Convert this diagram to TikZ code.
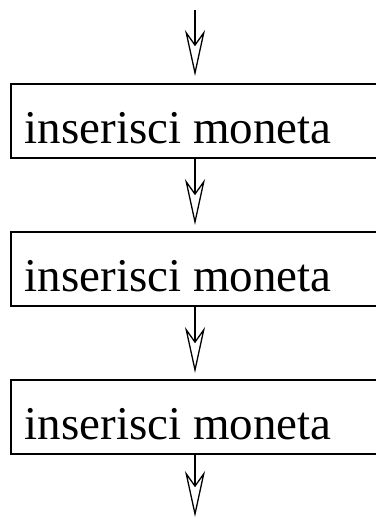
\documentclass[tikz,border=0pt]{standalone}
\usepackage{fontspec}
\setmainfont{Liberation Serif}
\usetikzlibrary{arrows.meta}
\begin{document}
\begin{tikzpicture}[x=1pt,y=-1pt,
  stepbox/.style={draw, line width=2pt, minimum width=368pt, minimum height=74pt,
    inner sep=0pt, text height=44pt, text depth=0pt,
    font=\fontsize{47}{56}\selectfont},
  flow/.style={line width=1.3pt, -{Stealth[open, length=46pt, width=20pt, inset=14pt, line width=1.3pt]}}]
\useasboundingbox (0,0) rectangle (375,519);
\node[stepbox] (b1) at (195,121) {inserisci moneta\kern34pt\relax};
\node[stepbox] (b2) at (195,269) {inserisci moneta\kern34pt\relax};
\node[stepbox] (b3) at (195,417) {inserisci moneta\kern34pt\relax};
\coordinate (start) at (195,10);
\coordinate (end) at (195,517);
\draw[flow, shorten >=7pt] (start) -- (b1.north);
\draw[flow, shorten >=6pt] (b1.south) -- (b2.north);
\draw[flow, shorten >=6pt] (b2.south) -- (b3.north);
\draw[flow] (b3.south) -- (end);
\end{tikzpicture}
\end{document}
